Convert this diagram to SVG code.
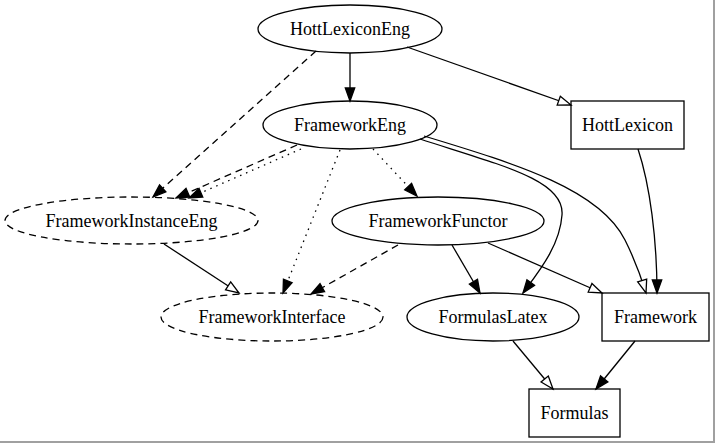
<svg xmlns="http://www.w3.org/2000/svg" width="715" height="443" viewBox="0 0 715 443">
<style>
.n{fill:none;stroke:#000;stroke-width:1.3}
.d{stroke-dasharray:7,5}
.t{font-family:"Liberation Serif","Times New Roman",serif;font-size:18px;fill:#000;text-anchor:middle;dominant-baseline:central}
.e{fill:none;stroke:#000;stroke-width:1.3}
.dash{stroke-dasharray:7,5}
.dot{stroke-dasharray:1.5,5}
.f{marker-end:url(#af)}
.o{marker-end:url(#ao)}
</style>
<defs>
<marker id="af" markerUnits="userSpaceOnUse" markerWidth="14" markerHeight="11" refX="13" refY="4.7" orient="auto" overflow="visible">
<path d="M0,0 L13,4.7 L0,9.4 z" fill="#000" stroke="#000" stroke-width="1.3"/>
</marker>
<marker id="ao" markerUnits="userSpaceOnUse" markerWidth="14" markerHeight="11" refX="13" refY="4.7" orient="auto" overflow="visible">
<path d="M0,0 L13,4.7 L0,9.4 z" fill="#fff" stroke="#000" stroke-width="1.3"/>
</marker>
</defs>
<rect x="0" y="0" width="715" height="443" fill="#fff"/>
<g id="edges">
<path class="e f" d="M350,53 L350,101"/>
<path class="e o" d="M407,47 L571,105"/>
<path class="e dash f" d="M316,51 L153,197"/>
<path class="e dash f" d="M297,145 L176,198"/>
<path class="e dot f" d="M301,149 L189,198"/>
<path class="e dot f" d="M340,150 L283,293"/>
<path class="e dot f" d="M373,149 L417,196"/>
<path class="e f" d="M420,139 C500,165 565,180 562,215 C560,245 540,270 523,293"/>
<path class="e o" d="M424,136 C520,165 600,190 625,240 C635,260 642,280 646,293"/>
<path class="e f" d="M638,149 C650,185 657,240 657,293"/>
<path class="e f" d="M452,245 L480,293"/>
<path class="e o" d="M488,243 L602,293"/>
<path class="e dash f" d="M398,245 L311,294"/>
<path class="e o" d="M164,244 L239,293"/>
<path class="e o" d="M513,341 L553,389"/>
<path class="e f" d="M635,341 L596,389"/>
</g>
<g id="HottLexiconEng">
<ellipse class="n" cx="350" cy="29" rx="92" ry="24"/>
<text class="t" x="350" y="29">HottLexiconEng</text>
</g>
<g id="FrameworkEng">
<ellipse class="n" cx="350" cy="125" rx="87" ry="24"/>
<text class="t" x="350" y="125">FrameworkEng</text>
</g>
<g id="HottLexicon">
<rect class="n" x="571" y="101" width="113" height="48"/>
<text class="t" x="627.5" y="125">HottLexicon</text>
</g>
<g id="FrameworkInstanceEng">
<ellipse class="n d" cx="131.5" cy="220.5" rx="126.5" ry="23.5"/>
<text class="t" x="131.5" y="221">FrameworkInstanceEng</text>
</g>
<g id="FrameworkFunctor">
<ellipse class="n" cx="438" cy="221" rx="106" ry="24"/>
<text class="t" x="438" y="221">FrameworkFunctor</text>
</g>
<g id="FrameworkInterface">
<ellipse class="n d" cx="272" cy="317" rx="111" ry="24"/>
<text class="t" x="272" y="317">FrameworkInterface</text>
</g>
<g id="FormulasLatex">
<ellipse class="n" cx="493" cy="317" rx="86" ry="24"/>
<text class="t" x="493" y="317">FormulasLatex</text>
</g>
<g id="Framework">
<rect class="n" x="602" y="293" width="107" height="48"/>
<text class="t" x="655.5" y="317">Framework</text>
</g>
<g id="Formulas">
<rect class="n" x="529" y="389" width="91" height="48"/>
<text class="t" x="574.5" y="413">Formulas</text>
</g>
<rect x="713" y="0" width="2" height="443" fill="#a0a0a0"/>
<rect x="0" y="441" width="715" height="2" fill="#a0a0a0"/>
</svg>
